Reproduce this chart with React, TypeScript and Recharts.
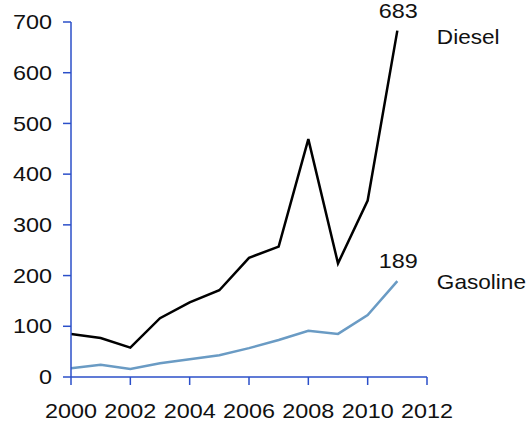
import React from "react";
import { LineChart, Line, XAxis, YAxis } from "recharts";

const years = [2000, 2001, 2002, 2003, 2004, 2005, 2006, 2007, 2008, 2009, 2010, 2011];
const diesel = [85, 77, 58, 116, 147, 171, 235, 257, 469, 224, 348, 683];
const gasoline = [17, 24, 16, 27, 35, 43, 57, 73, 91, 85, 122, 189];
const xTicks = [2000, 2002, 2004, 2006, 2008, 2010, 2012];
const yTicks = [0, 100, 200, 300, 400, 500, 600, 700];

const data = years.map((y, i) => ({ year: y, diesel: diesel[i], gasoline: gasoline[i] }));

const FONT = "'Liberation Sans', Arial, sans-serif";
const SX = 1.17;
const AXIS = "#2b4fc9";

const YTick = (props: any) => {
  const { x, y, payload } = props;
  return (
    <text transform={`translate(${x},${y}) scale(${SX},1)`} textAnchor="end" dy="0.355em" fontSize={20} fontFamily={FONT} fill="#111">
      {payload.value}
    </text>
  );
};

const XTick = (props: any) => {
  const { x, y, payload } = props;
  return (
    <text transform={`translate(${x},${y}) scale(${SX},1)`} textAnchor="middle" dy="0.71em" fontSize={20} fontFamily={FONT} fill="#111">
      {payload.value}
    </text>
  );
};

const makeLabel = (name: string, values: number[], nameDy: number) => (props: any) => {
  const { x, y, index } = props;
  if (index !== values.length - 1) return null;
  return (
    <g>
      <text transform={`translate(${x + 1},${y - 13}) scale(${SX},1)`} textAnchor="middle" fontSize={20} fontFamily={FONT} fill="#111">
        {values[index]}
      </text>
      <text transform={`translate(${x + 39.5},${y + nameDy}) scale(1.13,1)`} textAnchor="start" fontSize={20} fontFamily={FONT} fill="#111">
        {name}
      </text>
    </g>
  );
};

export default function App() {
  return (
    <div style={{ position: "absolute", left: 0, top: 0, width: 528, height: 423, background: "#fff" }}>
      <LineChart width={528} height={423} data={data} margin={{ top: 22, right: 101, left: 0, bottom: 0 }}>
        <XAxis
          dataKey="year"
          type="number"
          domain={[2000, 2012]}
          ticks={xTicks}
          allowDataOverflow
          height={46}
          tickSize={8}
          tickMargin={19}
          stroke={AXIS}
          strokeWidth={1.5}
          tick={<XTick />}
        />
        <YAxis
          domain={[0, 700]}
          ticks={yTicks}
          width={71}
          tickSize={8}
          tickMargin={11}
          stroke={AXIS}
          strokeWidth={1.5}
          tick={<YTick />}
        />
        <Line
          dataKey="diesel"
          stroke="#000"
          strokeWidth={2.5}
          dot={false}
          isAnimationActive={false}
          label={makeLabel("Diesel", diesel, 13)}
        />
        <Line
          dataKey="gasoline"
          stroke="#6a9bc4"
          strokeWidth={2.5}
          dot={false}
          isAnimationActive={false}
          label={makeLabel("Gasoline", gasoline, 8)}
        />
      </LineChart>
    </div>
  );
}
